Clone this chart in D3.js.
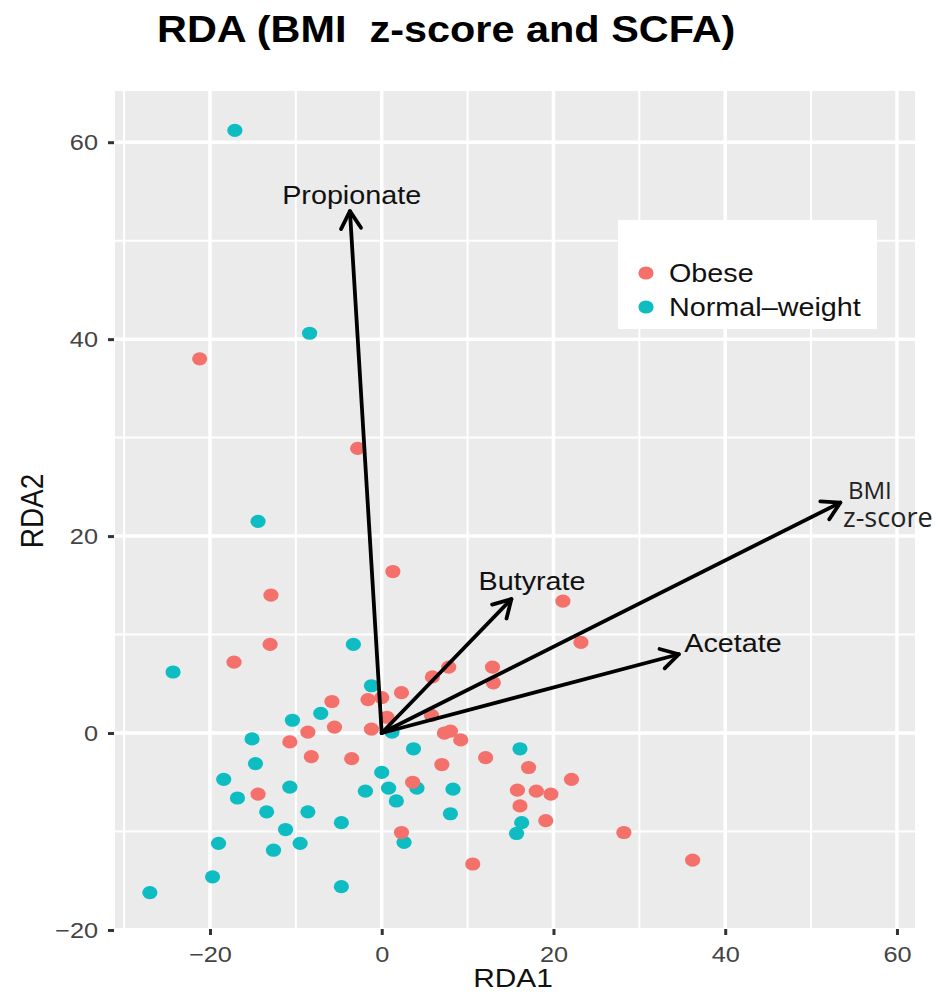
<!DOCTYPE html>
<html>
<head>
<meta charset="utf-8">
<script src="https://cdn.jsdelivr.net/npm/d3@7"></script>
<style>
body { margin: 0; background: #fff; }
text { font-family: "Liberation Sans", Arial, Helvetica, sans-serif; }
</style>
</head>
<body>
<div id="container"></div>
<script>
var W = 939, H = 994,
    SX = 1.15; // the picture is a bit stretched sideways

// samples, [RDA1, RDA2]
var obese = [[-21.2, 38.0], [-2.8, 28.9], [1.3, 16.4], [-12.9, 14.0], [21.1, 13.4], [-13.0, 9.0],
    [23.2, 9.2], [-17.2, 7.2], [12.9, 6.7], [13.0, 5.1], [7.8, 6.7], [5.9, 5.7], [-5.8, 3.2],
    [-1.6, 3.4], [0.0, 3.6], [2.3, 4.1], [0.6, 1.6], [5.8, 1.8], [-5.5, 0.6], [-1.2, 0.4],
    [-8.6, 0.1], [-10.7, -0.9], [7.3, 0.0], [8.0, 0.2], [9.2, -0.7], [-8.2, -2.4], [-3.5, -2.6],
    [12.1, -2.5], [7.0, -3.2], [17.1, -3.5], [22.1, -4.7], [3.6, -5.0], [-14.4, -6.2], [15.8, -5.8],
    [18.0, -5.9], [19.7, -6.2], [16.1, -7.4], [19.1, -8.9], [2.3, -10.1], [28.2, -10.1],
    [10.6, -13.3], [36.2, -12.9]];
var normal = [[-17.1, 61.2], [-8.4, 40.6], [-14.4, 21.5], [-3.3, 9.0], [-24.3, 6.2], [-1.2, 4.8],
    [-7.1, 2.0], [-10.4, 1.3], [1.2, 0.1], [-15.1, -0.6], [3.7, -1.6], [16.1, -1.6], [-14.7, -3.1],
    [0.0, -4.0], [-18.4, -4.7], [-10.7, -5.5], [-1.9, -5.9], [0.8, -5.6], [4.1, -5.6], [8.3, -5.7],
    [-16.8, -6.6], [1.7, -6.9], [-13.4, -8.0], [-8.6, -8.0], [8.0, -8.2], [-4.7, -9.1], [16.3, -9.1],
    [-11.2, -9.8], [15.7, -10.2], [-19.0, -11.2], [-9.5, -11.2], [2.6, -11.1], [-12.6, -11.9],
    [-19.7, -14.6], [-4.7, -15.6], [-27.0, -16.2]];

// biplot arrows
var arrowNames = ["Propionate", "Butyrate", "Acetate", "BMI"];
var arrowX = [-3.7, 15.1, 34.6, 53.4];
var arrowY = [53.0, 13.6, 8.0, 23.4];
var labelX = [-3.5, 17.5, 40.9, 54.3];
var labelY = [53.7, 14.5, 8.2, 23.8];

var xTicks = [-20, 0, 20, 40, 60],
    yTicks = [-20, 0, 20, 40, 60],
    xMinor = [-30, -10, 10, 30, 50],
    yMinor = [-10, 10, 30, 50];
var groups = ["Obese", "Normal\u2013weight"],
    colors = ["#F4706A", "#0DBDC2"];

var svg = d3.select("#container").append("svg")
    .attr("width", W)
    .attr("height", H);

var x = d3.scaleLinear().domain([-31.06, 62.1]).range([115, 915]);
var y = d3.scaleLinear().domain([-19.8, 65.2]).range([928, 91]);

function stretch(sel, tx, ty, k) {
    sel.attr("transform", "translate(" + tx + "," + ty + ") scale(" + (k || SX) + ",1)");
}

/*panel + grid*/
svg.append("rect")
    .attr("x", x.range()[0]).attr("y", y.range()[1])
    .attr("width", x.range()[1] - x.range()[0])
    .attr("height", y.range()[0] - y.range()[1])
    .attr("fill", "#EBEBEB");

var grid = svg.append("g").attr("stroke", "#fff");
grid.selectAll(".vmin").data(xMinor).enter().append("line")
    .attr("x1", d => x(d)).attr("x2", d => x(d))
    .attr("y1", y.range()[0]).attr("y2", y.range()[1])
    .attr("stroke-width", 2);
grid.selectAll(".hmin").data(yMinor).enter().append("line")
    .attr("y1", d => y(d)).attr("y2", d => y(d))
    .attr("x1", x.range()[0]).attr("x2", x.range()[1])
    .attr("stroke-width", 2);
grid.selectAll(".vmaj").data(xTicks).enter().append("line")
    .attr("x1", d => x(d)).attr("x2", d => x(d))
    .attr("y1", y.range()[0]).attr("y2", y.range()[1])
    .attr("stroke-width", 3.5);
grid.selectAll(".hmaj").data(yTicks).enter().append("line")
    .attr("y1", d => y(d)).attr("y2", d => y(d))
    .attr("x1", x.range()[0]).attr("x2", x.range()[1])
    .attr("stroke-width", 3.5);

/*axes*/
var yAxis = svg.append("g")
    .attr("transform", "translate(114,0)")
    .call(d3.axisLeft(y).tickValues(yTicks).tickSize(6).tickFormat(d3.format("")));
var xAxis = svg.append("g")
    .attr("transform", "translate(0,929)")
    .call(d3.axisBottom(x).tickValues(xTicks).tickSize(6).tickFormat(d3.format("")));

[xAxis, yAxis].forEach(function (ax) {
    ax.select(".domain").remove();
    ax.selectAll(".tick line").attr("stroke", "#333").attr("stroke-width", 3);
    ax.selectAll(".tick text")
        .attr("fill", "#444")
        .style("font-size", "22px")
        .attr("x", 0).attr("y", 0);
});
yAxis.selectAll(".tick text").attr("dy", "0.35em")
    .each(function () { stretch(d3.select(this), -16, 0); });
xAxis.selectAll(".tick text").attr("dy", 0)
    .each(function () { stretch(d3.select(this), 0, 33); });

/*points*/
var pts = svg.append("g");
pts.selectAll(".normal").data(normal).enter().append("ellipse")
    .attr("cx", d => x(d[0])).attr("cy", d => y(d[1]))
    .attr("rx", 7.6).attr("ry", 6.6)
    .attr("fill", colors[1]);
pts.selectAll(".obese").data(obese).enter().append("ellipse")
    .attr("cx", d => x(d[0])).attr("cy", d => y(d[1]))
    .attr("rx", 7.6).attr("ry", 6.6)
    .attr("fill", colors[0]);

/*arrows*/
var arr = svg.append("g")
    .attr("stroke", "#000").attr("stroke-width", 3.8)
    .attr("fill", "none").attr("stroke-linecap", "round").attr("stroke-linejoin", "round");
arrowNames.forEach(function (name, i) {
    var x0 = x(0), y0 = y(0), x1 = x(arrowX[i]), y1 = y(arrowY[i]);
    var a = Math.atan2(y1 - y0, x1 - x0), len = 20, spread = Math.PI / 6;
    arr.append("line").attr("x1", x0).attr("y1", y0).attr("x2", x1).attr("y2", y1);
    arr.append("path").attr("d",
        "M" + (x1 - len * Math.cos(a - spread)) + "," + (y1 - len * Math.sin(a - spread)) +
        "L" + x1 + "," + y1 +
        "L" + (x1 - len * Math.cos(a + spread)) + "," + (y1 - len * Math.sin(a + spread)));
});

// labels (BMI z-score is set in another font in the original, on two lines)
arrowNames.forEach(function (name, i) {
    if (name == "BMI") {
        var t = svg.append("text")
            .attr("x", x(labelX[i])).attr("y", y(labelY[i]))
            .style("font-family", "'Open Sans', sans-serif")
            .attr("fill", "#222");
        t.append("tspan").style("font-size", "24px").text("BMI");
        t.append("tspan")
            .attr("x", x(labelX[i]) - 5).attr("dy", 28)
            .style("font-size", "27px").text("z-score");
        return;
    }
    svg.append("text")
        .attr("text-anchor", "middle")
        .style("font-size", "25px")
        .attr("fill", "#111")
        .text(name)
        .call(stretch, x(labelX[i]), y(labelY[i]));
});

/*legend*/
var leg = svg.append("g");
leg.append("rect").attr("x", 618).attr("y", 220).attr("width", 259).attr("height", 109).attr("fill", "#fff");
groups.forEach(function (g, i) {
    leg.append("ellipse").attr("cx", 646).attr("cy", 273 + i * 34)
        .attr("rx", 7.6).attr("ry", 6.6).attr("fill", colors[i]);
    leg.append("text")
        .attr("dy", "0.35em")
        .style("font-size", "25px")
        .attr("fill", "#111")
        .text(g)
        .call(stretch, 669, 273 + i * 34);
});

/*titles*/
svg.append("text")
    .style("font-size", "37px").style("font-weight", "bold")
    .style("white-space", "pre")
    .text("RDA (BMI  z-score and SCFA)")
    .call(stretch, 157, 42, 1.12);

svg.append("text")
    .attr("text-anchor", "middle")
    .style("font-size", "26px").attr("fill", "#111")
    .text("RDA1")
    .call(stretch, 513, 987);

svg.append("text")
    .attr("text-anchor", "middle")
    .style("font-size", "28px").attr("fill", "#111")
    .text("RDA2")
    .attr("transform", "translate(43,511) scale(" + SX + ",1) rotate(-90)");
</script>
</body>
</html>
